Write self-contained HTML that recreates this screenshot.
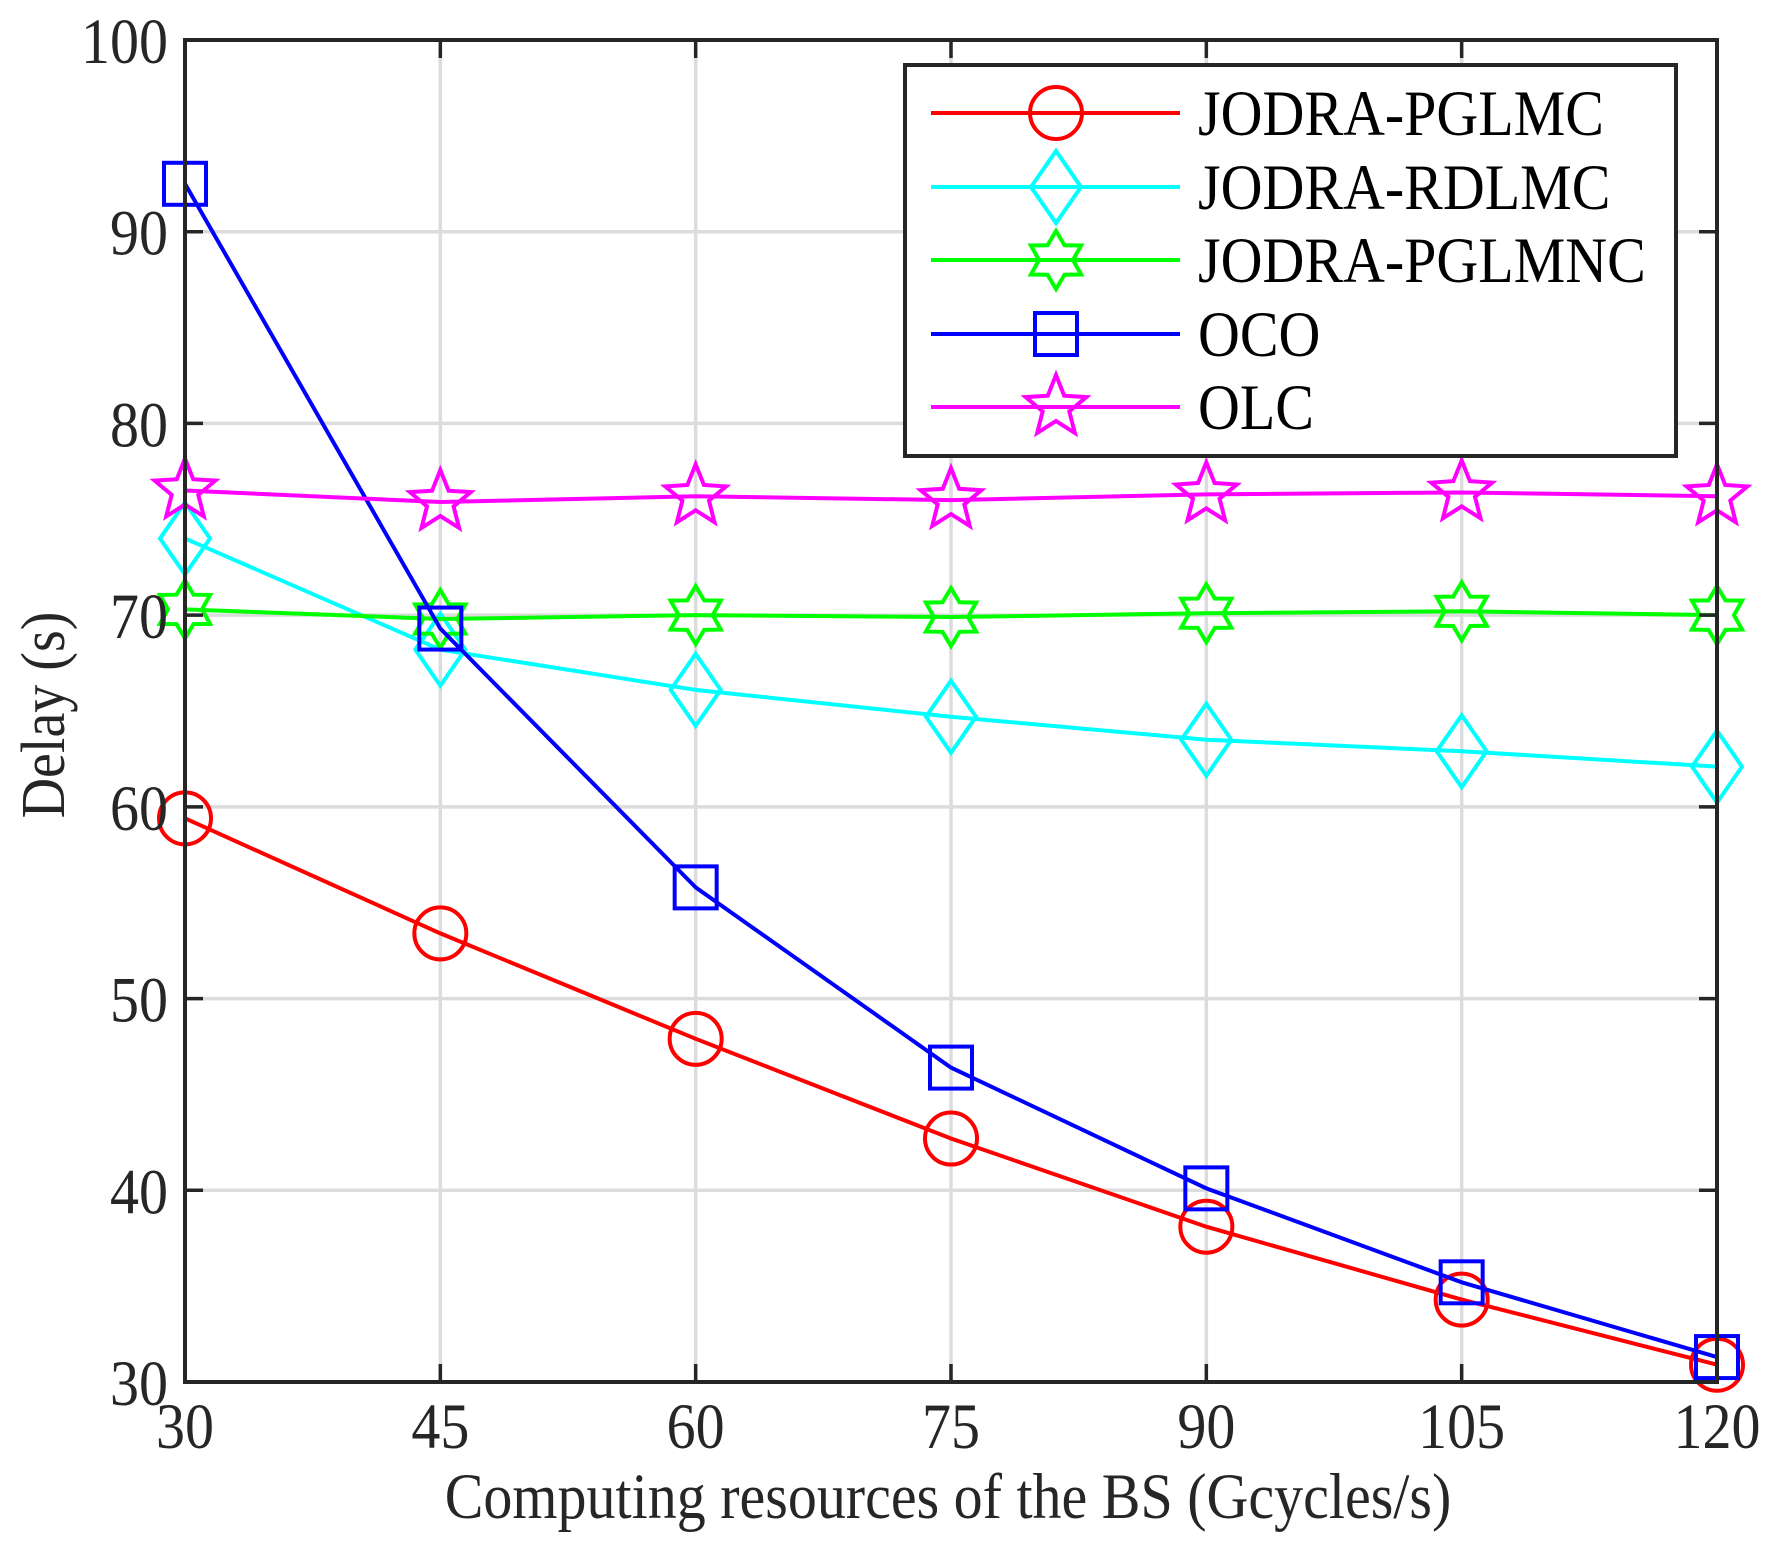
<!DOCTYPE html>
<html><head><meta charset="utf-8"><style>
html,body{margin:0;padding:0;background:#fff;}
svg{display:block;font-family:"Liberation Serif",serif;}
</style></head><body>
<svg id="chart" width="1767" height="1557" viewBox="0 0 1767 1557" xmlns="http://www.w3.org/2000/svg">
<g id="grid"></g>
<g id="series"></g>
<g id="axes"></g>
<text x="0" y="0" transform="translate(64,715) rotate(-90) scale(1,1.12)" font-size="56" text-anchor="middle" fill="#262626">Delay (s)</text>
<text x="0" y="0" transform="translate(948,1518) scale(1,1.12)" font-size="58" text-anchor="middle" fill="#262626">Computing resources of the BS (Gcycles/s)</text>
<g id="legend"></g>
</svg>
<script>
const categories = [30, 45, 60, 75, 90, 105, 120];
const xTicks = [30, 45, 60, 75, 90, 105, 120];
const yTicks = [30, 40, 50, 60, 70, 80, 90, 100];
const seriesNames = ["JODRA-PGLMC", "JODRA-RDLMC", "JODRA-PGLMNC", "OCO", "OLC"];
const pglmc = [59.4, 53.4, 47.9, 42.7, 38.1, 34.3, 30.9];
const rdlmc = [74.0, 68.2, 66.1, 64.7, 63.5, 62.9, 62.1];
const pglmnc = [70.3, 69.8, 70.0, 69.9, 70.1, 70.2, 70.0];
const oco = [92.5, 69.3, 55.8, 46.4, 40.1, 35.2, 31.3];
const olc = [76.5, 75.9, 76.2, 76.0, 76.3, 76.4, 76.2];

const NS = "http://www.w3.org/2000/svg";
const L = 185, R = 1717, T = 40, B = 1382;
const xs = v => L + (v - 30) / 90 * (R - L);
const ys = v => B - (v - 30) / 70 * (B - T);
function mk(tag, attrs, parent) {
  const e = document.createElementNS(NS, tag);
  for (const k in attrs) e.setAttribute(k, attrs[k]);
  parent.appendChild(e);
  return e;
}
const grid = document.getElementById('grid');
const axes = document.getElementById('axes');
xTicks.forEach(t => {
  const g = mk('line', {x1: xs(t), x2: xs(t), y1: T, y2: B, stroke: '#dcdcdc', 'stroke-width': 3.5}, grid);
  
  
  const tk = mk('line', {x1: xs(t), x2: xs(t), y1: B, y2: B - 18, stroke: '#262626', 'stroke-width': 3.5}, axes);
  
  
  const tk2 = mk('line', {x1: xs(t), x2: xs(t), y1: T, y2: T + 18, stroke: '#262626', 'stroke-width': 3.5}, axes);
  
  
  const lb = mk('text', {x: 0, y: 0, transform: `translate(${xs(t)},1448) scale(1,1.12)`, 'font-size': 58, 'text-anchor': 'middle', fill: '#262626'}, axes);
  
  
  lb.textContent = t;
});
yTicks.forEach(t => {
  const g = mk('line', {x1: L, x2: R, y1: ys(t), y2: ys(t), stroke: '#dcdcdc', 'stroke-width': 3.5}, grid);
  
  
  const tk = mk('line', {x1: L, x2: L + 18, y1: ys(t), y2: ys(t), stroke: '#262626', 'stroke-width': 3.5}, axes);
  
  
  const tk2 = mk('line', {x1: R, x2: R - 18, y1: ys(t), y2: ys(t), stroke: '#262626', 'stroke-width': 3.5}, axes);
  
  
  const lb = mk('text', {x: 0, y: 0, transform: `translate(168,${ys(t) + 23}) scale(1,1.12)`, 'font-size': 58, 'text-anchor': 'end', fill: '#262626'}, axes);
  
  
  lb.textContent = t;
});
const frame = mk('rect', {x: L, y: T, width: R - L, height: B - T, fill: 'none', stroke: '#262626', 'stroke-width': 4}, axes);



function starPts(cx, cy, n, ro, ri, rot) {
  const p = [];
  for (let i = 0; i < 2 * n; i++) {
    const a = rot + i * Math.PI / n;
    const r = i % 2 ? ri : ro;
    p.push((cx + r * Math.sin(a)).toFixed(1) + ',' + (cy - r * Math.cos(a)).toFixed(1));
  }
  return p.join(' ');
}
function marker(type, cx, cy, color, parent) {
  const st = {fill: 'none', stroke: color, 'stroke-width': 4};
  let e;
  if (type === 'circle') e = mk('circle', Object.assign({cx: cx, cy: cy, r: 26}, st), parent);
  else if (type === 'diamond') e = mk('polygon', Object.assign({points: `${cx},${cy-36} ${cx+25},${cy} ${cx},${cy+36} ${cx-25},${cy}`}, st), parent);
  else if (type === 'square') e = mk('rect', Object.assign({x: cx - 21, y: cy - 21, width: 42, height: 42}, st), parent);
  else if (type === 'hex') e = mk('polygon', Object.assign({points: starPts(cx, cy, 6, 29, 17, 0)}, st), parent);
  else e = mk('polygon', Object.assign({points: starPts(cx, cy, 5, 32, 14, 0)}, st), parent);
  return e;
}
const allData = [pglmc, rdlmc, pglmnc, oco, olc];
const colors = ['#ff0000', '#00ffff', '#00ff00', '#0000ff', '#ff00ff'];
const markers = ['circle', 'diamond', 'hex', 'square', 'star'];
const keys = ['jodra-pglmc', 'jodra-rdlmc', 'jodra-pglmnc', 'oco', 'olc'];
const sg = document.getElementById('series');
allData.forEach((d, si) => {
  const g = mk('g', {}, sg);
  
  
  const ln = mk('polyline', {points: d.map((v, i) => xs(categories[i]) + ',' + ys(v)).join(' '), fill: 'none', stroke: colors[si], 'stroke-width': 4}, g);
  
  
  d.forEach((v, i) => {
    const m = marker(markers[si], xs(categories[i]), ys(v), colors[si], g);
    
    
  });
});
const lg = document.getElementById('legend');
const box = mk('rect', {x: 905, y: 65, width: 771, height: 391, fill: '#fff', stroke: '#262626', 'stroke-width': 4}, lg);


const rowY = [113, 187, 260, 334, 407];
seriesNames.forEach((n, si) => {
  const g = mk('g', {}, lg);
  
  
  const y = rowY[si];
  mk('line', {x1: 931, x2: 1180, y1: y, y2: y, stroke: colors[si], 'stroke-width': 4}, g);
  marker(markers[si], 1056, y, colors[si], g);
  const t = mk('text', {x: 0, y: 0, transform: `translate(1198,${y + 22}) scale(1,1.12)`, 'font-size': 58, fill: '#000'}, g);
  
  
  t.textContent = n;
});
</script>
</body></html>
